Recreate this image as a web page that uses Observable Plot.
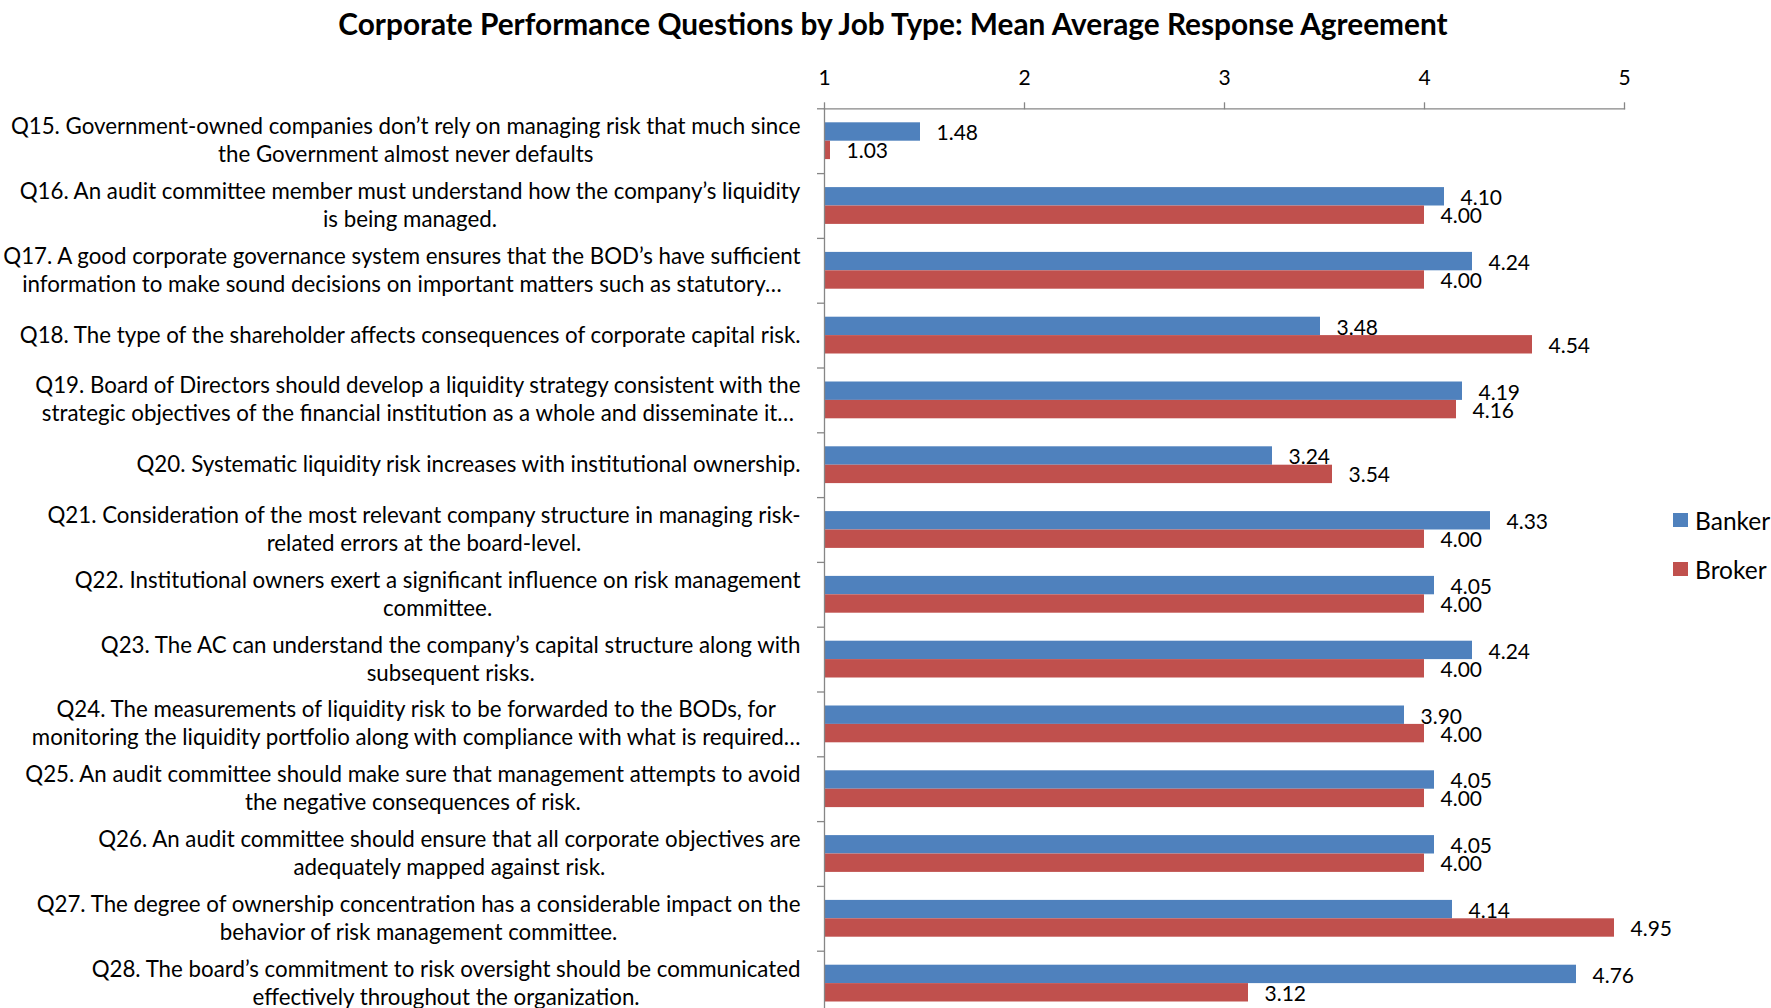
<!DOCTYPE html>
<html>
<head>
<meta charset="utf-8">
<script src="https://cdn.jsdelivr.net/npm/d3@7"></script>
<script src="https://cdn.jsdelivr.net/npm/@observablehq/plot@0.6"></script>
<style>
  html, body { margin: 0; padding: 0; background: #fff; overflow: hidden; }
  #wrap { position: relative; width: 1771px; height: 1008px; overflow: hidden; font-family: "Lato", "Open Sans", sans-serif; }
  #title { position: absolute; top: 6px; left: 0; width: 1786px; text-align: center; font-weight: bold; font-size: 29.8px; color: #000; white-space: nowrap; }
  #chart { position: absolute; top: 50px; left: 0; }
  #chart svg { display: block; }
  .sw { position: absolute; left: 1673px; display: flex; align-items: center; height: 30px; font-size: 24.5px; color: #000; white-space: nowrap; }
  .sw span.box { width: 14.6px; height: 14.6px; display: inline-block; margin-right: 7.5px; }
</style>
</head>
<body>
<div id="wrap">
  <div id="title">Corporate Performance Questions by Job Type: Mean Average Response Agreement</div>
  <div id="chart"></div>
  <div id="legend"></div>
</div>
<script>
const questions = ["Q15","Q16","Q17","Q18","Q19","Q20","Q21","Q22","Q23","Q24","Q25","Q26","Q27","Q28"];
const labels = [
  "Q15. Government-owned companies don’t rely on managing risk that much since\nthe Government almost never defaults",
  "Q16. An audit committee member must understand how the company’s liquidity\nis being managed.",
  "Q17. A good corporate governance system ensures that the BOD’s have sufficient\ninformation to make sound decisions on important matters such as statutory…",
  "Q18. The type of the shareholder affects consequences of corporate capital risk.",
  "Q19. Board of Directors should develop a liquidity strategy consistent with the\nstrategic objectives of the financial institution as a whole and disseminate it…",
  "Q20. Systematic liquidity risk increases with institutional ownership.",
  "Q21. Consideration of the most relevant company structure in managing risk-\nrelated errors at the board-level.",
  "Q22. Institutional owners exert a significant influence on risk management\ncommittee.",
  "Q23. The AC can understand the company’s capital structure along with\nsubsequent risks.",
  "Q24. The measurements of liquidity risk to be forwarded to the BODs, for\nmonitoring the liquidity portfolio along with compliance with what is required…",
  "Q25. An audit committee should make sure that management attempts to avoid\nthe negative consequences of risk.",
  "Q26. An audit committee should ensure that all corporate objectives are\nadequately mapped against risk.",
  "Q27. The degree of ownership concentration has a considerable impact on the\nbehavior of risk management committee.",
  "Q28. The board’s commitment to risk oversight should be communicated\neffectively throughout the organization."
];
const series = ["Banker", "Broker"];
const colors = ["#4F81BD", "#C0504D"];
const banker = [1.48, 4.10, 4.24, 3.48, 4.19, 3.24, 4.33, 4.05, 4.24, 3.90, 4.05, 4.05, 4.14, 4.76];
const broker = [1.03, 4.00, 4.00, 4.54, 4.16, 3.54, 4.00, 4.00, 4.00, 4.00, 4.00, 4.00, 4.95, 3.12];
const xTicks = [1, 2, 3, 4, 5];

const labelOf = new Map(questions.map((q, i) => [q, labels[i]]));
const bankerRows = questions.map((q, i) => ({q, series: series[0], value: banker[i]}));
const brokerRows = questions.map((q, i) => ({q, series: series[1], value: broker[i]}));

const band = 64.8;
const pad = 14;
const barH = (band - 2 * pad) / 2;
const axisColor = "#868686";
const font = "Lato, 'Open Sans', sans-serif";
const marginT = 58.3;

const chart = Plot.plot({
  width: 1771,
  height: marginT + questions.length * band,
  marginTop: marginT,
  marginLeft: 824,
  marginRight: 147,
  marginBottom: 0,
  style: {fontFamily: font, fontSize: "21px", color: "#000", background: "#fff"},
  x: {domain: [xTicks[0], xTicks[xTicks.length - 1]], label: null},
  y: {domain: questions, padding: 0, round: false, label: null},
  marks: [
    Plot.barX(bankerRows, {x1: xTicks[0], x2: "value", y: "q", fill: colors[0], insetTop: pad, insetBottom: band - pad - barH}),
    Plot.barX(brokerRows, {x1: xTicks[0], x2: "value", y: "q", fill: colors[1], insetTop: pad + barH, insetBottom: pad}),
    Plot.text(bankerRows, {x: "value", y: "q", text: d => d.value.toFixed(2), dx: 16, dy: -7.5, textAnchor: "start", fontSize: 21, fill: "#000"}),
    Plot.text(brokerRows, {x: "value", y: "q", text: d => d.value.toFixed(2), dx: 16, dy: 10.5, textAnchor: "start", fontSize: 21, fill: "#000"}),
    Plot.frame({anchor: "top", stroke: axisColor, strokeWidth: 1.3}),
    Plot.frame({anchor: "left", stroke: axisColor, strokeWidth: 1.3}),
    Plot.axisX({anchor: "top", ticks: xTicks, tickSize: 7, tickPadding: 16.5, stroke: axisColor, strokeWidth: 1.3, fontSize: 21, fill: "#000", tickFormat: d => String(d), label: null}),
    Plot.axisY({anchor: "left", tickSize: 7, stroke: axisColor, strokeWidth: 1.3, tickFormat: () => "", dy: -band / 2, label: null}),
    Plot.axisY({anchor: "left", tickSize: 0, tickPadding: 24, dy: -2, fontSize: 22.3, lineHeight: 1.255, fill: "#000", tickFormat: q => labelOf.get(q), label: null})
  ]
});
document.getElementById("chart").appendChild(chart);

// center-align the lines of each multi-line category label (right edge = widest line)
chart.querySelectorAll('g[aria-label="y-axis tick label"] text').forEach(t => {
  const w = t.getBBox().width;
  if (!w) return;
  t.setAttribute("text-anchor", "middle");
  const tr = t.getAttribute("transform") || "";
  t.setAttribute("transform", tr + ` translate(${-w / 2},0)`);
});

const legend = document.getElementById("legend");
series.forEach((s, i) => {
  const row = document.createElement("div");
  row.className = "sw";
  row.style.top = (520 + 49 * i - 15) + "px";
  row.innerHTML = `<span class="box" style="background:${colors[i]}"></span><span>${s}</span>`;
  legend.appendChild(row);
});
</script>
</body>
</html>
